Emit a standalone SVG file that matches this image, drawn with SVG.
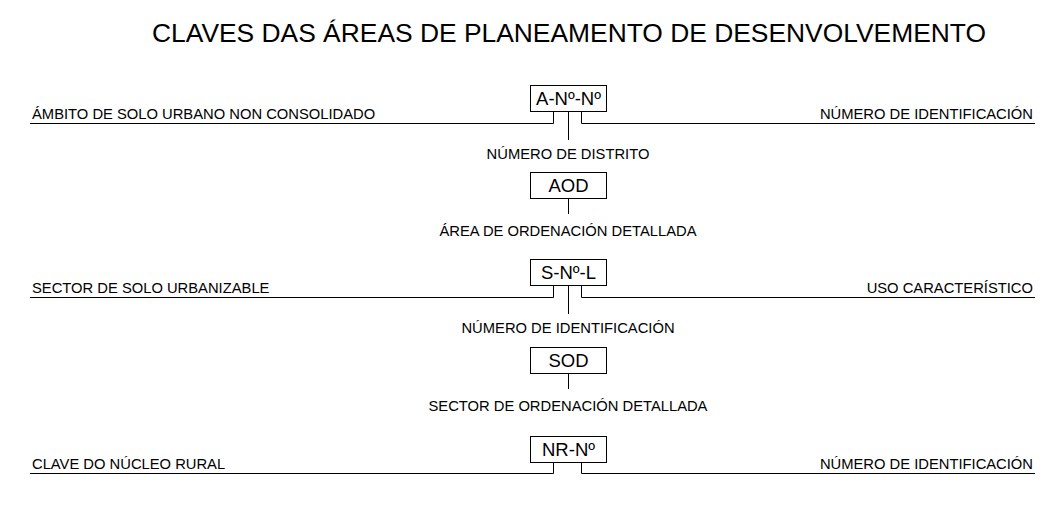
<svg xmlns="http://www.w3.org/2000/svg" width="1050" height="516" viewBox="0 0 1050 516">
<style>
text{font-family:"Liberation Sans",Arial,sans-serif;fill:#000}
.t{font-size:26.4px}
.l{font-size:14.75px}
.c{text-anchor:middle}
.e{text-anchor:end}
.b{font-size:18.5px;text-anchor:middle}
rect{fill:#fff;stroke:#000;stroke-width:1}
.cn path{fill:none;stroke:#000;stroke-width:1}
</style>
<rect x="0" y="0" width="1050" height="516" style="fill:#fff;stroke:none"/>
<text class="t" x="152" y="42">CLAVES DAS ÁREAS DE PLANEAMENTO DE DESENVOLVEMENTO</text>
<g class="cn" id="connectors">
<path d="M553.5 111V123.5H30M581.5 111V123.5H1035M568.5 111V140"/>
<path d="M568.5 198V214"/>
<path d="M553.5 285V297.5H30M581.5 285V297.5H1035M568.5 285V314"/>
<path d="M568.5 373V389"/>
<path d="M553.5 462V473.5H30M581.5 462V473.5H1035"/>
</g>
<g id="n1"><rect x="530.5" y="85.5" width="76" height="26"/><text class="b" x="568.5" y="105">A-Nº-Nº</text></g>
<g id="n1l"><text class="l" x="32" y="119">ÁMBITO DE SOLO URBANO NON CONSOLIDADO</text></g>
<g id="n1r"><text class="l e" x="1033" y="119">NÚMERO DE IDENTIFICACIÓN</text></g>
<g id="n1b"><text class="l c" x="568" y="159">NÚMERO DE DISTRITO</text></g>
<g id="n2"><rect x="530.5" y="172.5" width="76" height="26"/><text class="b" x="568.5" y="192">AOD</text></g>
<g id="n2b"><text class="l c" x="568" y="236">ÁREA DE ORDENACIÓN DETALLADA</text></g>
<g id="n3"><rect x="530.5" y="259.5" width="76" height="26"/><text class="b" x="568.5" y="279">S-Nº-L</text></g>
<g id="n3l"><text class="l" x="32" y="293">SECTOR DE SOLO URBANIZABLE</text></g>
<g id="n3r"><text class="l e" x="1033" y="293">USO CARACTERÍSTICO</text></g>
<g id="n3b"><text class="l c" x="568" y="333">NÚMERO DE IDENTIFICACIÓN</text></g>
<g id="n4"><rect x="530.5" y="347.5" width="76" height="26"/><text class="b" x="568.5" y="367">SOD</text></g>
<g id="n4b"><text class="l c" x="568" y="411">SECTOR DE ORDENACIÓN DETALLADA</text></g>
<g id="n5"><rect x="530.5" y="436.5" width="76" height="26"/><text class="b" x="568.5" y="456">NR-Nº</text></g>
<g id="n5l"><text class="l" x="32" y="469">CLAVE DO NÚCLEO RURAL</text></g>
<g id="n5r"><text class="l e" x="1033" y="469">NÚMERO DE IDENTIFICACIÓN</text></g>
</svg>
